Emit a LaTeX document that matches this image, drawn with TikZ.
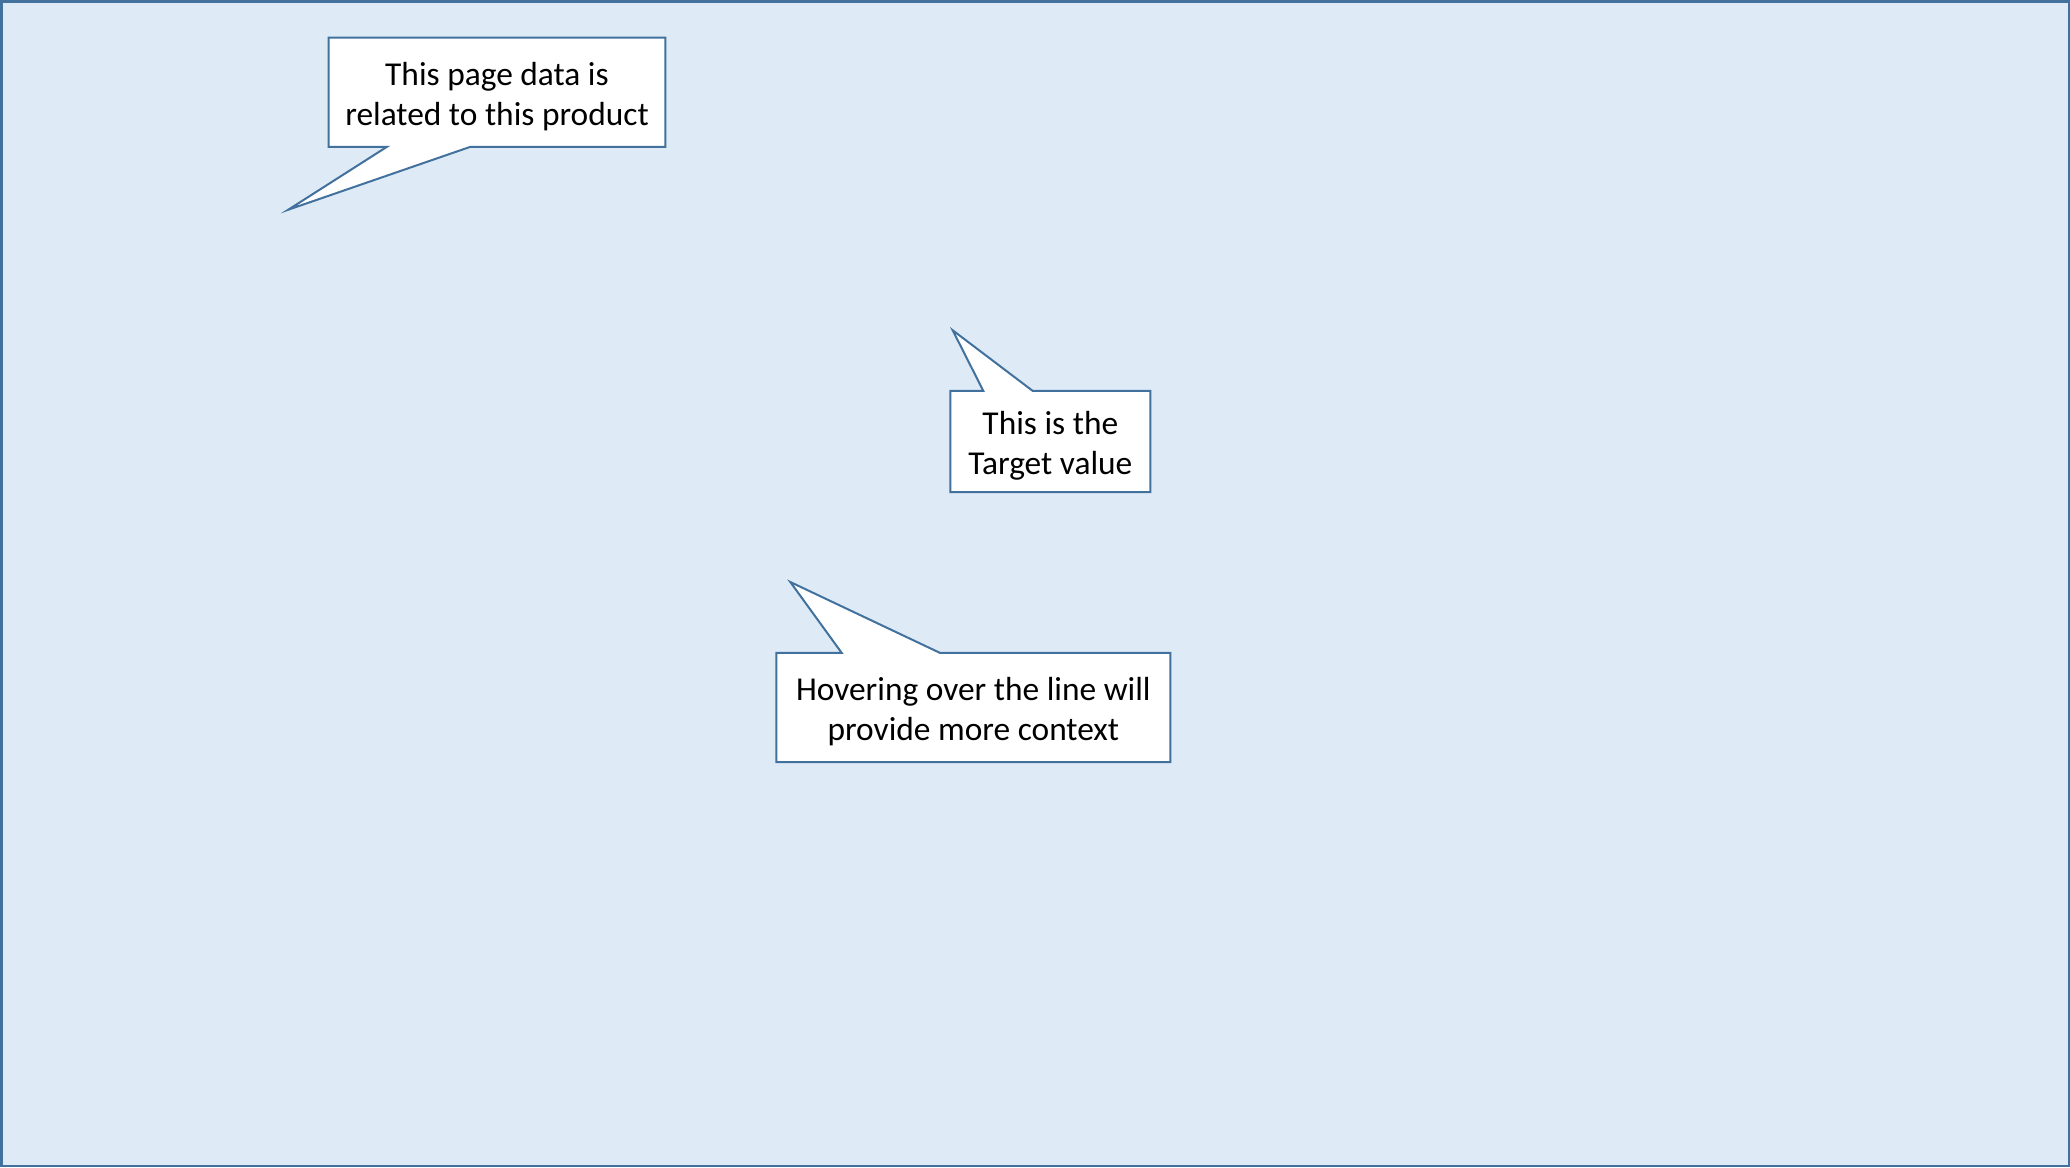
\documentclass[tikz,border=0pt]{standalone}
\usepackage{fontspec}
\setmainfont{Carlito}
\usetikzlibrary{backgrounds}
\definecolor{slidebg}{HTML}{DEEBF7}
\definecolor{slideline}{HTML}{41719C}

\begin{document}
\begin{tikzpicture}[x=0.5pt,y=-0.5pt,
    box/.style={inner sep=0pt},
    note/.style={align=center,inner sep=0pt,font=\fontsize{16.7}{19.9}\selectfont},
    outline/.style={draw=slideline,fill=white,line width=1pt,line join=miter}]
    \useasboundingbox (0,0) rectangle (2070,1167);
    % callout boxes
    \node[box,minimum width=168pt,minimum height=54.25pt] (product) at (497,92.3) {};
    \node[box,minimum width=99.65pt,minimum height=50.2pt] (target) at (1050.35,441.5) {};
    \node[box,minimum width=196.65pt,minimum height=54.2pt] (hover) at (973.35,707.5) {};
    % callout texts
    \node[note] (producttext) at ([yshift=-2pt]product.center)
        {This page data is\\related to this product};
    \node[note] (targettext) at ([yshift=-2pt]target.center)
        {This is the\\Target value};
    \node[note] (hovertext) at ([yshift=-2pt]hover.center)
        {Hovering over the line will\\provide more context};
    % pointer tips
    \coordinate (producttip) at (288.3,209.7);
    \coordinate (targettip) at (952.7,330.3);
    \coordinate (hovertip) at (790.3,582);
    \begin{scope}[on background layer]
    \draw[draw=slideline,fill=slidebg,line width=1.25pt] (1.25,1.25) rectangle (2068.75,1165.75);
    \draw[outline] (product.north west) -- (product.north east) -- (product.south east)
        -- (product.south -| 470,0) -- (producttip) -- (product.south -| 386.7,0)
        -- (product.south west) -- cycle;
    \draw[outline] (target.south west) -- (target.south east) -- (target.north east)
        -- (target.north -| 1032.7,0) -- (targettip) -- (target.north -| 983.3,0)
        -- (target.north west) -- cycle;
    \draw[outline] (hover.south west) -- (hover.south east) -- (hover.north east)
        -- (hover.north -| 940,0) -- (hovertip) -- (hover.north -| 841.7,0)
        -- (hover.north west) -- cycle;
    \end{scope}
\end{tikzpicture}
\end{document}
